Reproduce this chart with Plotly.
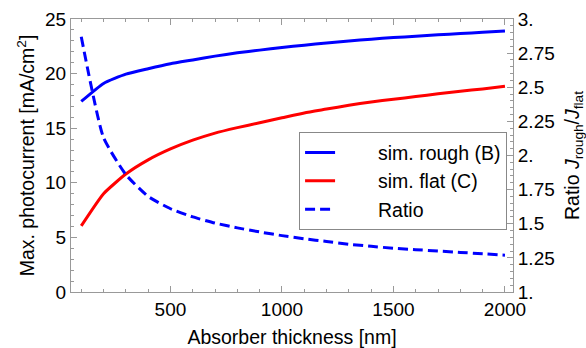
import plotly.graph_objects as go

thickness = [100, 200, 300, 400, 500, 600, 700, 800, 900, 1000,
             1100, 1200, 1300, 1400, 1500, 1600, 1700, 1800, 1900, 2000]
rough = [17.45, 19.1, 19.95, 20.45, 20.9, 21.25, 21.6, 21.9, 22.15, 22.4,
         22.6, 22.8, 22.98, 23.15, 23.3, 23.42, 23.55, 23.67, 23.78, 23.9]
flat = [6.05, 9.0, 10.8, 12.1, 13.1, 13.9, 14.55, 15.05, 15.5, 15.95,
        16.4, 16.75, 17.1, 17.4, 17.65, 17.9, 18.15, 18.38, 18.6, 18.85]
ratio = [2.87, 2.13, 1.86, 1.70, 1.61, 1.55, 1.505, 1.47, 1.44, 1.413,
         1.39, 1.37, 1.35, 1.335, 1.32, 1.31, 1.30, 1.29, 1.28, 1.27]
ratio_ticks = [1, 1.25, 1.5, 1.75, 2, 2.25, 2.5, 2.75, 3]
ratio_ticklabels = ["1.", "1.25", "1.5", "1.75", "2.", "2.25", "2.5", "2.75", "3."]

FONT = "Liberation Sans, Arial, sans-serif"
TICK = 19
TITLE = 19.5
pad = "\u00a0" * 7

fig = go.Figure()
fig.add_trace(go.Scatter(x=thickness, y=rough, mode="lines", name=pad + "sim. rough (B)",
                         line=dict(color="#0000ff", width=3, shape="spline", smoothing=0.5),
                         legendgroup="a"))
fig.add_trace(go.Scatter(x=thickness, y=flat, mode="lines", name=pad + "sim. flat (C)",
                         line=dict(color="#ff0000", width=3, shape="spline", smoothing=0.5),
                         legendgroup="b"))
fig.add_trace(go.Scatter(x=thickness, y=ratio, mode="lines", name=pad + "Ratio", yaxis="y2",
                         line=dict(color="#0000ff", width=3, dash="10px,5px",
                                   shape="spline", smoothing=0.5),
                         legendgroup="c"))

axis_common = dict(showgrid=False, zeroline=False, showline=True, linecolor="#999999",
                   linewidth=1, ticks="inside", tickcolor="#999999", ticklen=6,
                   automargin=False,
                   tickfont=dict(size=TICK, color="black", family=FONT))

fig.update_layout(
    width=586, height=348,
    margin=dict(l=71, r=73, t=19, b=56),
    paper_bgcolor="white", plot_bgcolor="white",
    font=dict(family=FONT, size=TITLE, color="black"),
    xaxis=dict(range=[54, 2036], tickvals=[500, 1000, 1500, 2000], mirror="ticks",
               minor=dict(dtick=100, tick0=0, ticks="inside", ticklen=3, tickcolor="#999999"),
               title=dict(text="Absorber thickness [nm]", standoff=11,
                          font=dict(size=TITLE, family=FONT)),
               **axis_common),
    yaxis=dict(range=[0, 25], tickvals=[0, 5, 10, 15, 20, 25],
               minor=dict(dtick=1, tick0=0, ticks="inside", ticklen=3, tickcolor="#999999"),
               title=dict(text="Max. photocurrent [mA/cm<sup>2</sup>]", standoff=5,
                          font=dict(size=TITLE, family=FONT)),
               **axis_common),
    yaxis2=dict(range=[1, 3], overlaying="y", side="right", tickvals=ratio_ticks,
                ticktext=ratio_ticklabels,
                minor=dict(dtick=0.05, tick0=0, ticks="inside", ticklen=3, tickcolor="#999999"),
                title=dict(text="Ratio <i>J</i><sub>rough</sub>/<i>J</i><sub>flat</sub>", standoff=15,
                           font=dict(size=TITLE, family=FONT)),
                **axis_common),
    legend=dict(x=0.516, y=0.585, xanchor="left", yanchor="top",
                bgcolor="white", bordercolor="#888888", borderwidth=1,
                font=dict(size=TITLE, family=FONT), tracegroupgap=0,
                traceorder="grouped", itemwidth=30),
    showlegend=True,
)

fig.write_html("out.html")
